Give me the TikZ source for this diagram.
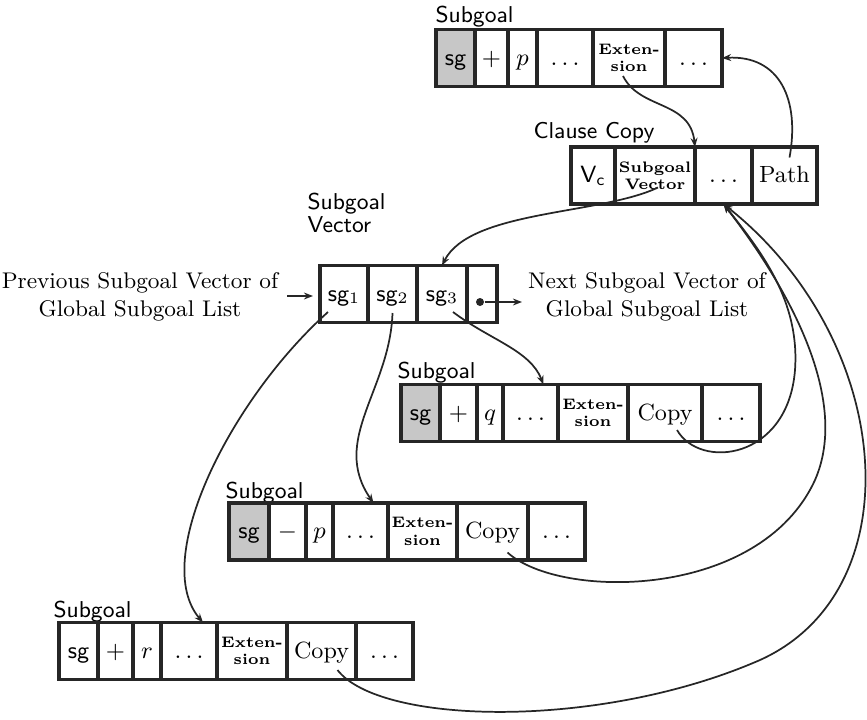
\documentclass[tikz,border=0pt]{standalone}
\usetikzlibrary{arrows.meta,calc}
\begin{document}
\begin{tikzpicture}[x=0.375pt,y=-0.375pt,
  cell/.style={draw=black!85, line width=1.3pt, minimum height=57*0.375pt,
    inner sep=0pt, outer sep=0pt, anchor=west},
  one/.style={font=\fontsize{8.8}{10}\selectfont, text height=1.6ex, text depth=0.35ex},
  ext/.style={font=\fontsize{5.7}{6.5}\selectfont\bfseries, align=center},
  cw/.style={minimum width=#1*0.375pt},
  sgc/.style={fill=black!22},
  lbl/.style={font=\fontsize{8.6}{10}\selectfont\sffamily, inner sep=0pt, anchor=base west},
  side/.style={font=\fontsize{8.5}{10.5}\selectfont, align=center, inner sep=0pt},
  conn/.style={draw=black!85, line width=0.65pt, -{Stealth[length=3.4pt,width=2.6pt]}}
]
\useasboundingbox (0,0) rectangle (867,719);

% top subgoal record
\node[lbl] (la) at (435,22) {Subgoal};
\node[cell,one,cw=39,sgc] (a1) at (436,58) {\sffamily sg};
\node[cell,one,cw=33] (a2) at (a1.east) {$+$};
\node[cell,one,cw=29] (a3) at (a2.east) {$p$};
\node[cell,one,cw=56] (a4) at (a3.east) {$\dots$};
\node[cell,ext,cw=72] (a5) at (a4.east) {Exten-\\sion};
\node[cell,one,cw=57] (a6) at (a5.east) {$\dots$};

% clause copy record
\node[lbl] (lc) at (533,138) {Clause Copy};
\node[cell,one,cw=44] (c1) at (571,175.5) {\sffamily V\textsubscript{c}};
\node[cell,ext,cw=80] (c2) at (c1.east) {Subgoal\\Vector};
\node[cell,one,cw=57] (c3) at (c2.east) {$\dots$};
\node[cell,one,cw=65] (c4) at (c3.east) {Path};

% subgoal vector
\node[font=\fontsize{8.6}{10}\selectfont\sffamily, align=left, inner sep=0pt, anchor=base west] (lv) at (307,232) {Subgoal\\[-1.5pt]Vector};
\node[cell,one,cw=48] (v1) at (320,294) {{\sffamily sg}$_1$};
\node[cell,one,cw=49] (v2) at (v1.east) {{\sffamily sg}$_2$};
\node[cell,one,cw=50] (v3) at (v2.east) {{\sffamily sg}$_3$};
\node[cell,one,cw=30] (v4) at (v3.east) {};
\node[circle, fill=black!85, inner sep=0pt, minimum size=3pt] (dot) at ($(v4.center)+(-2,8)$) {};

\node[side] (prev) at (140,297) {Previous Subgoal Vector of\\Global Subgoal List};
\node[side] (next) at (647,297) {Next Subgoal Vector of\\Global Subgoal List};
\coordinate (pin) at (287,296);
\coordinate (pout) at (313,296);
\coordinate (nout) at (522,302);

% subgoal q
\node[lbl] (lq) at (397,378) {Subgoal};
\node[cell,one,cw=39,sgc] (q1) at (401,413) {\sffamily sg};
\node[cell,one,cw=37] (q2) at (q1.east) {$+$};
\node[cell,one,cw=26] (q3) at (q2.east) {$q$};
\node[cell,one,cw=55] (q4) at (q3.east) {$\dots$};
\node[cell,ext,cw=70] (q5) at (q4.east) {Exten-\\sion};
\node[cell,one,cw=74] (q6) at (q5.east) {Copy};
\node[cell,one,cw=58] (q7) at (q6.east) {$\dots$};

% subgoal -p
\node[lbl] (lp) at (225,498) {Subgoal};
\node[cell,one,cw=40,sgc] (p1) at (229,531.5) {\sffamily sg};
\node[cell,one,cw=37] (p2) at (p1.east) {$-$};
\node[cell,one,cw=27] (p3) at (p2.east) {$p$};
\node[cell,one,cw=55] (p4) at (p3.east) {$\dots$};
\node[cell,ext,cw=69] (p5) at (p4.east) {Exten-\\sion};
\node[cell,one,cw=71] (p6) at (p5.east) {Copy};
\node[cell,one,cw=57] (p7) at (p6.east) {$\dots$};

% subgoal r
\node[lbl] (lr) at (53,617) {Subgoal};
\node[cell,one,cw=39] (r1) at (59,651) {\sffamily sg};
\node[cell,one,cw=35] (r2) at (r1.east) {$+$};
\node[cell,one,cw=28] (r3) at (r2.east) {$r$};
\node[cell,one,cw=56] (r4) at (r3.east) {$\dots$};
\node[cell,ext,cw=70] (r5) at (r4.east) {Exten-\\sion};
\node[cell,one,cw=69] (r6) at (r5.east) {Copy};
\node[cell,one,cw=57] (r7) at (r6.east) {$\dots$};

% pointers
\draw[conn] ($(a5.center)+(-6,18)$) .. controls (640,110) and (690,100) .. (c3.north west);
\draw[conn] ($(c4.center)+(5,-18)$) .. controls (800,100) and (780,55) .. (a6.east);
\draw[conn] ($(c2.center)+(3,12)$) .. controls (600,215) and (470,210) .. (v3.north);
\draw[conn] ($(v1.center)+(-16,18)$) .. controls (230,400) and (150,560) .. ($(r4.north)+(14,0)$);
\draw[conn] ($(v2.center)+(0,19)$) .. controls (390,390) and (330,440) .. ($(p4.north)+(13,0)$);
\draw[conn] ($(v3.center)+(11,18)$) .. controls (490,340) and (530,350) .. ($(q4.north)+(13,0)$);
\draw[conn] (dot) -- (nout);
\draw[conn] (pin) -- (pout);

% copy links back to the clause copy
\draw[conn] ($(q6.center)+(12,17)$) .. controls (700,470) and (788,460) .. (795,370)
  .. controls (800,300) and (760,250) .. (c3.south);
\draw[conn] ($(p6.center)+(15,21)$) .. controls (560,600) and (760,600) .. (815,480)
  .. controls (850,400) and (790,290) .. (c3.south);
\draw[conn] ($(r6.center)+(16,19)$) .. controls (380,725) and (600,730) .. (760,660)
  .. controls (915,590) and (895,340) .. (c3.south);
\end{tikzpicture}
\end{document}
